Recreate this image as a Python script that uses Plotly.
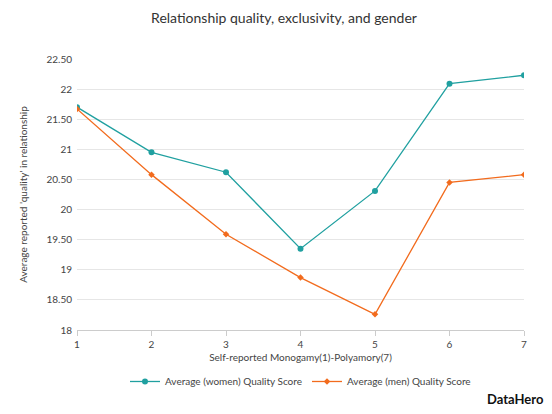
import plotly.graph_objects as go

x = [1, 2, 3, 4, 5, 6, 7]
women = [21.7, 20.95, 20.62, 19.35, 20.31, 22.09, 22.23]
men = [21.67, 20.58, 19.59, 18.87, 18.26, 20.45, 20.58]
yticks = [18, 18.5, 19, 19.5, 20, 20.5, 21, 21.5, 22, 22.5]
ytext = ["18", "18.50", "19", "19.50", "20", "20.50", "21", "21.50", "22", "22.50"]

fig = go.Figure()
fig.add_trace(go.Scatter(x=x, y=women, name="Average (women) Quality Score", mode="lines+markers",
                         line=dict(color="#20a0a0", width=1.3), marker=dict(symbol="circle", size=6)))
fig.add_trace(go.Scatter(x=x, y=men, name="Average (men) Quality Score", mode="lines+markers",
                         line=dict(color="#f26b1d", width=1.3), marker=dict(symbol="diamond", size=5)))
fig.update_layout(
    width=552, height=414, plot_bgcolor="white", paper_bgcolor="white",
    font=dict(family="Lato, sans-serif", size=10, color="#444"),
    title=dict(text="Relationship quality, exclusivity, and gender", x=0.5, y=0.975, xanchor="center",
               yanchor="middle", font=dict(size=14, color="#333")),
    margin=dict(l=69, r=36, t=51, b=92, autoexpand=False),
    xaxis=dict(title=dict(text="Self-reported Monogamy(1)-Polyamory(7)", font=dict(size=10), standoff=4),
               tickvals=x, range=[1, 7], showgrid=False, showline=True, linecolor="#ccc",
               ticks="outside", tickcolor="#ccc", ticklen=5, automargin=False),
    yaxis=dict(title=dict(text="Average reported 'quality' in relationship", font=dict(size=10), standoff=16),
               tickvals=yticks, ticktext=ytext, range=[18, 22.5], gridcolor="#e6e6e6", zeroline=False,
               automargin=False, ticklabelstandoff=4),
    legend=dict(orientation="h", x=0.5, xanchor="center", y=-0.19, yanchor="middle", font=dict(size=10)),
)
fig.add_annotation(text="<b>DataHero</b>", xref="paper", yref="paper", x=1.05, y=-0.29,
                   xanchor="right", yanchor="bottom", showarrow=False, font=dict(size=13, color="#111"))
fig.write_html("out.html")
